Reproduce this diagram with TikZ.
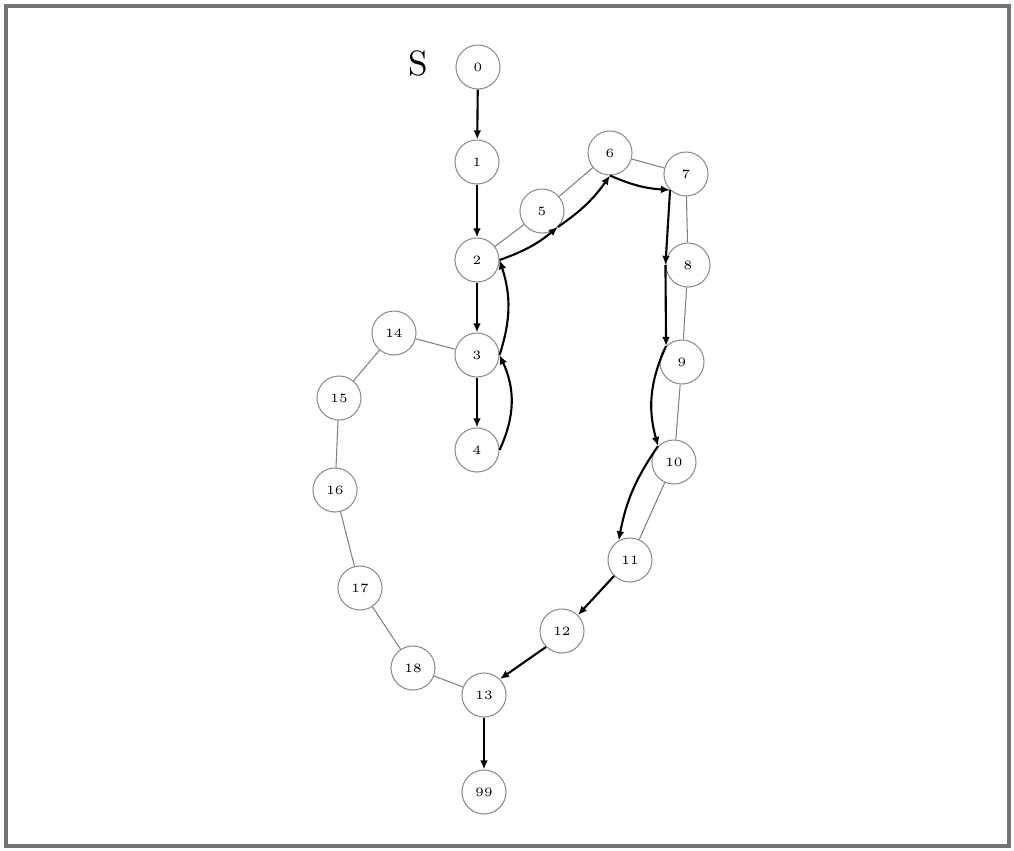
\documentclass[tikz,border=0pt]{standalone}
\usepackage{tikz}
\usetikzlibrary{arrows.meta}

\begin{document}
\begin{tikzpicture}[
  x=0.01cm, y=-0.01cm,
  vert/.style={
    circle, draw=black!45, line width=0.3pt, inner sep=0pt,
    minimum size=4.4mm, font=\fontsize{3.6}{4}\selectfont
  },
  link/.style={draw=black!50, line width=0.3pt},
  arr/.style={-{Latex[length=2.6pt,width=2.2pt]}, line width=0.6pt},
  frame/.style={draw=black!55, line width=0.9pt}
]
\useasboundingbox (0,0) rectangle (1014,850);
\draw[frame] (6,6) rectangle (1009,846);
\node[font=\normalsize] (start) at (418,63) {S};
\node[vert] (n0) at (478,67) {0};
\node[vert] (n1) at (477,162) {1};
\node[vert] (n2) at (477,260) {2};
\node[vert] (n3) at (477,355) {3};
\node[vert] (n4) at (477,450) {4};
\node[vert] (n5) at (542,211) {5};
\node[vert] (n6) at (610,153) {6};
\node[vert] (n7) at (686,174) {7};
\node[vert] (n8) at (688,265) {8};
\node[vert] (n9) at (682,362) {9};
\node[vert] (n10) at (674,462) {10};
\node[vert] (n11) at (630,560) {11};
\node[vert] (n12) at (562,631) {12};
\node[vert] (n13) at (484,695) {13};
\node[vert] (n14) at (394,333) {14};
\node[vert] (n15) at (339,398) {15};
\node[vert] (n16) at (335,490) {16};
\node[vert] (n17) at (360,588) {17};
\node[vert] (n18) at (413,668) {18};
\node[vert] (n99) at (484,792) {99};
% undirected links
\draw[link] (n2) -- (n5);
\draw[link] (n5) -- (n6);
\draw[link] (n6) -- (n7);
\draw[link] (n7) -- (n8);
\draw[link] (n8) -- (n9);
\draw[link] (n9) -- (n10);
\draw[link] (n10) -- (n11);
\draw[link] (n3) -- (n14);
\draw[link] (n14) -- (n15);
\draw[link] (n15) -- (n16);
\draw[link] (n16) -- (n17);
\draw[link] (n17) -- (n18);
\draw[link] (n18) -- (n13);
% first walk
\draw[arr] (n0) -- (n1);
\draw[arr] (n1) -- (n2);
\draw[arr] (n2) -- (n3);
\draw[arr] (n3) -- (n4);
% second walk
\draw[arr] (n4.east) to[bend right=25] (n3.east);
\draw[arr] (n3.east) to[bend right=18] (n2.east);
\draw[arr] (n2.east) to[bend right=10] (n5.south east);
\draw[arr] (n5.south east) to[bend right=10] (n6.south);
\draw[arr] (n6.south) to[bend right=10] (n7.south west);
\draw[arr] (n7.south west) -- (n8.west);
\draw[arr] (n8.west) -- (n9.north west);
\draw[arr] (n9.north west) to[bend right=20] (n10.north west);
\draw[arr] (n10.north west) to[bend right=12] (n11.120);
\draw[arr] (n11.south west) -- (n12.north east);
\draw[arr] (n12.south west) -- (n13.north east);
\draw[arr] (n13) -- (n99);
\end{tikzpicture}
\end{document}
